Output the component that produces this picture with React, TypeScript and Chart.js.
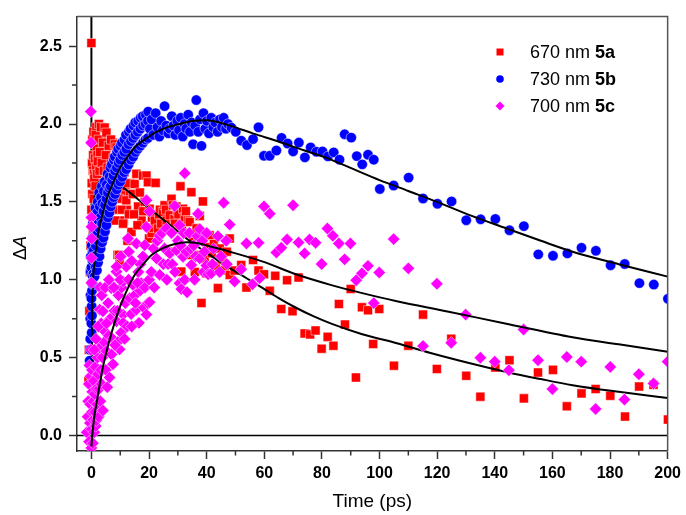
import React, { useEffect, useRef } from 'react';
import { Chart, registerables } from 'chart.js';

Chart.register(...registerables);

const xTickValues = [0, 20, 40, 60, 80, 100, 120, 140, 160, 180, 200];
const xMinorTicks = [10, 30, 50, 70, 90, 110, 130, 150, 170, 190];
const yTickValues = [0, 0.5, 1.0, 1.5, 2.0, 2.5];
const yMinorTicks = [0.25, 0.75, 1.25, 1.75, 2.25];

const legendLabels = ['670 nm ', '730 nm ', '700 nm '];
const legendIds = ['5a', '5b', '5c'];
const seriesColors = ['#FF0000', '#0000FF', '#FF00FF'];

// 670 nm 5a (red squares)
const series5a: number[][] = [
  [-1.0, 0.35], [-0.9, 0.55], [-0.7, 0.8], [-0.5, 1.05], [-0.3, 1.22], [0.0, 2.52], [0.1, 2.74],
  [0.0, 1.45], [0.1, 1.62], [0.2, 1.75], [0.3, 1.55], [0.4, 1.38], [0.5, 1.7], [0.6, 1.8], [0.8, 1.52],
  [0.2, 1.25], [0.5, 1.3], [0.9, 1.4], [1.3, 1.35], [0.3, 1.9], [0.7, 1.95], [0.9, 1.68], [1.3, 1.88],
  [1.7, 1.98], [2.4, 1.62], [2.6, 2.0], [3.1, 1.58], [3.5, 1.9], [3.9, 1.62], [4.4, 1.83], [4.9, 1.65],
  [5.4, 1.85], [5.9, 1.6], [6.5, 1.78], [7.0, 1.7], [7.4, 1.88], [7.9, 1.66], [8.4, 1.76], [9.0, 1.7],
  [9.4, 1.6], [10.2, 1.55], [10.6, 1.72], [11.8, 1.57], [12.3, 1.45], [13.4, 1.55], [13.5, 1.62],
  [1.0, 1.65], [1.2, 1.78], [1.4, 1.6], [1.5, 1.93], [1.6, 1.72], [1.8, 1.85], [2.0, 1.68], [2.1, 1.8],
  [2.2, 1.76], [2.5, 1.9], [2.8, 1.7], [3.0, 1.82], [3.3, 1.98], [3.6, 1.75], [4.0, 1.88], [4.3, 1.7],
  [4.6, 1.977], [5.0, 1.8], [5.2, 1.945], [5.6, 1.72], [6.0, 1.86], [6.3, 1.67], [6.8, 1.9], [7.2, 1.58],
  [7.6, 1.78], [8.1, 1.87], [8.5, 1.62], [8.7, 1.85], [9.2, 1.786], [9.6, 1.52], [10.0, 1.68], [10.4, 1.45],
  [10.8, 1.6], [11.2, 1.38], [11.5, 1.69], [12.1, 1.51], [12.6, 1.62], [13.0, 1.42], [13.9, 1.307],
  [14.4, 1.55], [15.0, 1.615], [15.6, 1.68], [16.2, 1.47], [16.8, 1.56], [17.4, 1.38], [17.9, 1.669],
  [18.5, 1.5], [19.1, 1.669], [19.6, 1.626],
  [7.5, 1.45], [8.3, 1.38], [9.1, 1.16], [9.8, 1.105], [9.6, 1.159], [11.0, 1.36], [12.5, 1.25],
  [14.8, 1.42], [16.0, 1.35], [18.0, 1.44],
  [20.2, 1.456], [20.0, 1.265], [20.9, 1.30], [21.0, 1.40], [21.6, 1.333], [22.0, 1.38], [22.3, 1.622],
  [23.1, 1.329], [23.5, 1.42], [23.8, 1.45], [24.2, 1.36], [24.8, 1.435], [25.4, 1.478], [25.9, 1.45],
  [26.1, 1.38], [26.6, 1.32], [27.2, 1.414], [27.2, 1.18], [27.8, 1.52], [28.3, 1.478], [28.8, 1.39],
  [29.0, 1.36], [29.5, 1.47], [29.8, 1.44], [30.2, 1.42], [30.6, 1.329], [30.9, 1.6], [31.2, 1.052],
  [31.4, 1.35], [31.8, 1.456], [32.4, 1.4], [32.8, 1.44], [33.1, 1.30], [33.6, 1.38], [34.1, 1.371],
  [34.1, 1.159], [34.7, 1.562], [35.3, 1.244], [35.9, 1.05], [36.5, 1.33], [37.0, 1.159], [37.6, 1.41],
  [38.2, 1.282], [38.2, 0.85], [38.7, 1.503], [39.3, 1.137], [39.9, 1.04], [40.5, 1.21], [41.0, 1.286],
  [41.8, 1.17], [42.5, 1.23], [43.2, 1.09], [43.9, 0.946], [44.6, 1.20], [45.4, 1.13], [46.2, 1.06],
  [47.0, 1.18], [48.0, 1.265], [48.0, 1.031],
  [49.7, 1.059], [52.0, 1.095], [53.8, 0.95], [56.1, 1.127], [58.0, 1.059], [59.9, 1.035], [61.9, 0.929],
  [63.8, 1.025], [65.9, 0.812], [67.9, 0.997], [69.8, 0.797], [71.9, 1.014], [74.0, 0.655], [75.9, 0.649],
  [77.8, 0.674], [79.9, 0.557], [82.0, 0.633], [84.0, 0.576], [85.9, 0.844], [88.0, 0.712], [90.0, 0.94],
  [91.8, 0.372], [93.9, 0.823], [96.0, 0.804], [97.8, 0.587], [99.9, 0.812], [105.0, 0.448], [110.0, 0.576],
  [115.1, 0.776], [119.9, 0.427], [124.9, 0.621], [130.1, 0.383], [135.0, 0.249], [140.2, 0.436],
  [145.1, 0.483], [150.1, 0.238], [155.0, 0.404], [160.2, 0.421], [165.0, 0.187], [170.1, 0.27],
  [175.0, 0.298], [180.1, 0.255], [185.2, 0.121], [190.1, 0.314], [195.1, 0.325], [200.1, 0.102],
];

// 730 nm 5b (blue circles)
const series5b: number[][] = [
  [-0.6, 0.48], [-0.5, 0.55], [-0.4, 0.62], [-0.4, 0.75], [-0.3, 0.9], [-0.3, 1.05], [-0.2, 1.15],
  [0.1, 0.66], [0.0, 0.72], [0.2, 0.77], [0.1, 0.83], [0.0, 0.88], [0.2, 0.93], [0.1, 0.98], [0.3, 1.03],
  [0.0, 1.08], [0.2, 1.13], [0.4, 1.18], [0.1, 1.22], [0.3, 1.27],
  [0.5, 0.97], [0.5, 1.12], [0.6, 1.26], [0.5, 1.36], [0.8, 1.04], [0.8, 1.19], [0.9, 1.32],
  [1.1, 1.02], [1.1, 1.15], [1.2, 1.28], [1.1, 1.41], [1.5, 1.08], [1.5, 1.22], [1.6, 1.36], [1.4, 1.46],
  [1.9, 1.06], [1.9, 1.3], [2.0, 1.43], [2.3, 1.11], [2.3, 1.25], [2.4, 1.38], [2.2, 1.5],
  [2.8, 1.15], [2.8, 1.33], [2.9, 1.47], [2.7, 1.56], [3.2, 1.2], [3.2, 1.4], [3.3, 1.53],
  [3.7, 1.24], [3.7, 1.36], [3.8, 1.49], [3.6, 1.6], [4.2, 1.27], [4.2, 1.44], [4.3, 1.57],
  [4.7, 1.31], [4.7, 1.48], [4.6, 1.63], [5.2, 1.35], [5.2, 1.52], [5.3, 1.61], [5.7, 1.4], [5.7, 1.56],
  [5.6, 1.68], [6.2, 1.43], [6.2, 1.59], [6.3, 1.66], [6.7, 1.47], [6.7, 1.6], [6.6, 1.72],
  [7.2, 1.5], [7.2, 1.64], [7.1, 1.74], [7.7, 1.53], [7.7, 1.67], [7.8, 1.77], [8.2, 1.55], [8.2, 1.7],
  [8.1, 1.79], [8.8, 1.58], [8.8, 1.72], [8.9, 1.82], [9.4, 1.61], [9.4, 1.75], [9.3, 1.84],
  [10.0, 1.63], [10.0, 1.77], [10.1, 1.86], [10.7, 1.66], [10.7, 1.8], [10.6, 1.88], [11.4, 1.69],
  [11.4, 1.82], [11.5, 1.9], [12.1, 1.71], [12.1, 1.84], [12.0, 1.93], [12.9, 1.74], [12.9, 1.87],
  [13.0, 1.95], [13.7, 1.77], [13.7, 1.89], [13.6, 1.97], [14.5, 1.79], [14.5, 1.91], [14.6, 1.99],
  [15.3, 1.82], [15.3, 1.93], [15.2, 2.01], [16.1, 1.84], [16.1, 1.95], [16.2, 2.02], [17.0, 1.86],
  [17.0, 1.97], [17.1, 2.04], [17.9, 1.88], [17.9, 1.99], [17.8, 2.05], [18.8, 1.9], [18.8, 2.0],
  [18.9, 2.06], [19.6, 1.91], [19.6, 2.02], [19.7, 2.08],
  [20.3, 1.97], [20.9, 2.03], [21.5, 1.93], [22.3, 2.07], [22.9, 1.98], [23.6, 1.92], [24.2, 2.02],
  [24.8, 1.96], [25.4, 2.115], [26.0, 1.99], [26.7, 1.94], [27.2, 1.97], [27.9, 2.05], [28.5, 1.99],
  [29.1, 1.93], [29.8, 2.02], [30.4, 1.96], [31.0, 2.04], [31.7, 1.92], [32.3, 2.0], [32.9, 1.97],
  [33.6, 2.06], [34.2, 1.95], [34.8, 2.01], [35.3, 1.87], [36.0, 1.99], [36.4, 2.154], [37.1, 1.95],
  [37.7, 2.03], [38.2, 1.86], [38.9, 2.07], [39.5, 1.97], [40.1, 2.02], [40.8, 1.94], [41.6, 2.04],
  [42.3, 1.98], [43.0, 2.01], [43.8, 1.95], [44.6, 2.03], [45.3, 1.98], [45.9, 2.04], [46.7, 1.97],
  [47.4, 2.0],
  [48.6, 1.977], [50.1, 1.95], [52.0, 1.893], [54.0, 1.865], [56.1, 1.903], [58.0, 1.979], [59.9, 1.796],
  [61.9, 1.796], [64.2, 1.83], [66.0, 1.911], [68.1, 1.875], [70.0, 1.824], [72.0, 1.881], [74.1, 1.786],
  [76.1, 1.85], [78.1, 1.822], [80.2, 1.824], [82.1, 1.792], [84.1, 1.818], [86.1, 1.771], [87.9, 1.934],
  [90.2, 1.913], [92.1, 1.794], [94.0, 1.741], [96.0, 1.803], [98.0, 1.771], [100.1, 1.583],
  [104.9, 1.605], [110.1, 1.656], [115.1, 1.522], [120.1, 1.488], [125.0, 1.503], [130.1, 1.382],
  [135.1, 1.388], [140.2, 1.39], [145.1, 1.318], [150.1, 1.344], [155.1, 1.163], [160.2, 1.154],
  [165.2, 1.169], [170.1, 1.205], [175.1, 1.186], [180.2, 1.093], [185.1, 1.101], [190.2, 0.978],
  [195.2, 0.969], [200.1, 0.878],
];

// 700 nm 5c (magenta diamonds)
const series5c: number[][] = [
  [-0.2, 2.08], [-0.1, 1.88], [0.0, 1.4], [0.05, 1.34], [0.1, 1.265], [0.0, 1.14], [0.0, 0.98],
  [-1.6, 0.02], [-1.3, 0.12], [-1.1, 0.22], [-0.9, 0.33], [-0.7, 0.45], [-0.8, -0.04], [-0.5, 0.08],
  [-0.4, 0.2], [-0.3, 0.38], [-0.2, 0.55], [0.0, -0.08], [0.1, 0.04], [0.2, 0.15], [0.3, 0.28],
  [0.2, 0.42], [0.5, -0.05], [0.6, 0.1], [0.7, 0.22], [0.8, 0.35], [1.0, 0.02], [1.1, 0.266],
  [1.2, 0.15], [1.4, 0.44], [1.5, 0.06], [1.7, 0.096], [1.8, 0.3], [2.0, 0.2], [2.1, 0.5], [2.3, 0.393],
  [2.5, 0.12], [2.7, 0.3], [2.9, 0.563], [3.1, 0.22], [3.3, 0.42], [3.5, 0.33], [3.8, 0.5], [4.0, 0.16],
  [4.0, 0.68], [2.9, 0.808], [4.0, 0.797], [3.4, 0.72], [4.5, 0.6], [5.0, 0.42], [5.2, 0.542],
  [5.5, 0.31], [5.8, 0.85], [6.3, 0.372], [6.0, 0.64], [6.9, 0.946], [6.5, 0.75], [7.0, 0.52],
  [7.5, 0.457], [7.4, 0.62], [8.0, 0.8], [8.7, 0.733], [8.7, 1.052], [9.2, 0.6], [9.8, 0.553],
  [9.4, 0.9], [10.3, 0.66], [10.5, 0.95], [11.0, 0.776], [11.0, 0.723], [11.0, 0.989], [11.8, 0.85],
  [12.1, 1.084], [12.4, 0.7], [13.3, 0.882], [13.8, 0.78], [14.4, 0.967], [15.0, 0.9], [15.6, 0.808],
  [16.5, 0.723], [16.9, 0.93], [17.3, 0.978], [18.2, 0.82], [19.1, 0.776], [19.6, 0.85], [20.2, 0.856],
  [1.0, 0.55], [1.6, 0.62], [2.4, 0.7], [3.0, 0.95], [3.6, 0.9], [4.8, 0.95], [5.3, 0.72], [6.1, 1.0],
  [7.8, 0.95], [8.2, 0.58], [9.0, 0.8], [10.0, 1.0], [11.5, 0.62], [12.9, 1.0], [14.0, 0.7], [15.3, 0.85],
  [16.0, 0.98], [17.0, 1.1], [18.6, 0.95], [20.0, 1.0],
  [8.7, 1.084], [10.2, 1.15], [12.7, 1.265], [13.0, 1.18], [14.0, 1.12], [15.6, 1.233], [16.3, 1.05],
  [17.9, 1.15], [18.5, 1.222], [19.1, 1.339], [19.1, 1.51], [20.2, 1.439],
  [20.8, 1.05], [21.5, 1.2], [21.8, 0.95], [22.6, 1.137], [22.9, 1.25], [23.7, 1.282], [23.7, 1.031],
  [24.5, 1.3], [25.0, 1.1], [25.4, 1.201], [26.0, 1.329], [26.2, 1.0], [26.6, 1.1], [27.2, 1.169],
  [27.8, 1.3], [28.1, 1.099], [28.9, 1.473], [29.0, 1.05], [29.5, 1.19], [30.0, 1.25], [30.6, 0.978],
  [30.6, 1.35], [31.0, 1.22], [31.2, 0.94], [31.8, 1.148], [32.0, 1.3], [32.4, 1.684], [32.4, 1.0],
  [33.0, 1.18], [33.2, 0.92], [34.0, 1.3], [34.5, 1.2], [34.7, 1.095], [35.5, 1.22], [35.8, 1.0],
  [36.2, 1.15], [36.8, 1.28], [37.0, 1.424], [37.6, 1.325], [37.6, 1.137], [38.5, 1.25], [38.9, 1.05],
  [39.2, 1.18], [39.9, 1.091], [40.0, 1.3], [40.5, 1.035], [41.6, 1.041], [42.0, 1.1], [42.4, 1.2],
  [43.9, 1.28], [44.5, 1.05], [45.0, 1.15], [45.9, 1.494], [46.8, 1.25], [47.0, 1.1], [48.0, 1.354],
  [49.7, 0.989], [52.0, 1.067], [53.8, 1.233], [55.9, 0.971], [58.0, 1.237], [58.4, 1.01], [59.9, 1.471],
  [61.9, 1.424], [64.2, 1.175], [65.9, 1.205], [67.9, 1.258], [70.0, 1.478], [71.9, 1.239], [74.0, 1.169],
  [75.7, 1.258], [77.8, 1.237], [79.9, 1.101], [81.9, 1.329], [83.8, 1.282], [85.9, 1.233], [87.9, 1.131],
  [89.9, 1.233], [91.9, 0.997], [93.9, 1.041], [96.0, 1.089], [98.0, 0.85], [99.9, 1.046], [104.9, 1.261],
  [110.0, 1.073], [115.1, 0.574], [119.9, 0.974], [124.9, 0.595], [129.9, 0.776], [135.0, 0.499],
  [140.0, 0.474], [144.9, 0.419], [150.0, 0.68], [155.0, 0.483], [160.0, 0.298], [165.0, 0.504],
  [170.0, 0.474], [175.0, 0.17], [180.1, 0.44], [185.0, 0.23], [190.0, 0.393], [195.1, 0.334],
  [200.0, 0.474],
];

// fitted curves
const fit5a: number[][] = [
  [0, 0.9], [0.2, 1.25], [0.5, 1.42], [1, 1.52], [2, 1.6], [3, 1.635], [4.5, 1.655], [6, 1.65], [8, 1.63],
  [10.4, 1.6], [15, 1.535], [20.2, 1.456], [26, 1.37], [33, 1.265], [41, 1.16], [48, 1.075], [54, 1.008],
  [59.5, 0.946], [65, 0.882], [71, 0.82], [77, 0.766], [83, 0.72], [94, 0.65], [106, 0.592], [117.4, 0.531],
  [130, 0.47], [144, 0.408], [156, 0.362], [167, 0.323], [183, 0.28], [200, 0.24],
];
const fit5b: number[][] = [
  [0, 0.0], [0.1, 0.45], [0.25, 0.8], [0.5, 0.98], [1, 1.1], [1.6, 1.2], [2.5, 1.31], [4, 1.43], [5.7, 1.54],
  [7.5, 1.62], [10, 1.72], [12.5, 1.79], [15.6, 1.86], [18.4, 1.9], [22.6, 1.95], [26.5, 1.98], [30.6, 2.0],
  [35, 2.02], [40, 2.025], [48, 1.99], [56, 1.94], [65.3, 1.885], [74, 1.83], [82.7, 1.775], [91, 1.71],
  [100, 1.64], [110, 1.57], [120, 1.5], [132, 1.41], [144, 1.33], [156, 1.25], [167, 1.18], [183, 1.1],
  [200, 1.02],
];
const fit5c: number[][] = [
  [0, -0.07], [0.3, 0.0], [1, 0.12], [2, 0.23], [4, 0.44], [7, 0.66], [10, 0.83], [12.5, 0.94], [15, 1.03],
  [18, 1.1], [21, 1.16], [25, 1.205], [29, 1.23], [33, 1.24], [37, 1.235], [41, 1.215], [48, 1.18],
  [59.5, 1.116], [71, 1.035], [83, 0.967], [94, 0.914], [106, 0.862], [124, 0.795], [144, 0.717],
  [167, 0.63], [183, 0.585], [200, 0.538],
];

const toXY = (arr: number[][]) => arr.map(([x, y]) => ({ x, y }));

const FONT = '"Liberation Sans", Arial, Helvetica, sans-serif';

const decorPlugin = {
  id: 'decor',
  beforeDatasetsDraw(chart: any) {
    const { ctx, chartArea, scales } = chart;
    const x0 = scales.x.getPixelForValue(0);
    const y0 = scales.y.getPixelForValue(0);
    ctx.save();
    ctx.strokeStyle = '#000';
    ctx.lineWidth = 1.5;
    ctx.beginPath();
    ctx.moveTo(chartArea.left, y0);
    ctx.lineTo(chartArea.right, y0);
    ctx.stroke();
    ctx.lineWidth = 2;
    ctx.beginPath();
    ctx.moveTo(x0, chartArea.top);
    ctx.lineTo(x0, chartArea.bottom);
    ctx.stroke();
    ctx.restore();
  },
  afterDraw(chart: any) {
    const { ctx, chartArea, scales } = chart;
    ctx.save();
    ctx.strokeStyle = '#555';
    ctx.lineWidth = 1.5;
    ctx.beginPath();
    ctx.moveTo(chartArea.left, chartArea.top);
    ctx.lineTo(chartArea.right, chartArea.top);
    ctx.lineTo(chartArea.right, chartArea.bottom);
    ctx.stroke();
    ctx.strokeStyle = '#333';
    ctx.lineWidth = 1.5;
    ctx.beginPath();
    xMinorTicks.forEach((v) => {
      const px = scales.x.getPixelForValue(v);
      ctx.moveTo(px, chartArea.bottom);
      ctx.lineTo(px, chartArea.bottom + 4.5);
    });
    yMinorTicks.forEach((v) => {
      const py = scales.y.getPixelForValue(v);
      ctx.moveTo(chartArea.left, py);
      ctx.lineTo(chartArea.left - 5, py);
    });
    ctx.stroke();
    ctx.fillStyle = '#000';
    ctx.font = `19px ${FONT}`;
    ctx.textAlign = 'center';
    ctx.textBaseline = 'middle';
    ctx.fillText('Time (ps)', (chartArea.left + chartArea.right) / 2, 502);
    ctx.save();
    ctx.translate(21, 248);
    ctx.rotate(-Math.PI / 2);
    ctx.font = `18px ${FONT}`;
    const wD = ctx.measureText('\u0394').width;
    ctx.font = `italic 18px ${FONT}`;
    const wA = ctx.measureText('A').width;
    const start = -(wD + wA) / 2;
    ctx.textAlign = 'left';
    ctx.font = `18px ${FONT}`;
    ctx.fillText('\u0394', start, 0);
    ctx.font = `italic 18px ${FONT}`;
    ctx.fillText('A', start + wD, 0);
    ctx.restore();
    const lx = 500;
    const ly0 = 52;
    const step = 27;
    for (let i = 0; i < 3; i++) {
      const y = ly0 + i * step;
      ctx.fillStyle = seriesColors[i];
      ctx.beginPath();
      if (i === 0) {
        ctx.rect(lx - 3.5, y - 3.5, 7, 7);
      } else if (i === 1) {
        ctx.arc(lx, y, 3.8, 0, Math.PI * 2);
      } else {
        ctx.moveTo(lx, y - 4.5);
        ctx.lineTo(lx + 4.5, y);
        ctx.lineTo(lx, y + 4.5);
        ctx.lineTo(lx - 4.5, y);
        ctx.closePath();
      }
      ctx.fill();
      ctx.fillStyle = '#000';
      ctx.textAlign = 'left';
      ctx.textBaseline = 'middle';
      ctx.font = `18px ${FONT}`;
      ctx.fillText(legendLabels[i], 530, y + 1);
      const w = ctx.measureText(legendLabels[i]).width;
      ctx.font = `bold 18px ${FONT}`;
      ctx.fillText(legendIds[i], 530 + w, y + 1);
    }
    ctx.restore();
  },
};

export default function App() {
  const canvasRef = useRef<HTMLCanvasElement | null>(null);

  useEffect(() => {
    if (!canvasRef.current) return;
    Chart.defaults.font.family = FONT;
    const pointBase = {
      showLine: false,
      pointBorderColor: 'rgba(255,255,255,0.8)',
      pointBorderWidth: 0.6,
      clip: 0,
    };
    const fitBase = {
      showLine: true,
      pointRadius: 0,
      borderColor: '#000',
      backgroundColor: '#000',
      borderWidth: 2,
      cubicInterpolationMode: 'monotone',
      fill: false,
      clip: 0,
    };
    const chart = new Chart(canvasRef.current, {
      type: 'scatter',
      data: {
        datasets: [
          { ...fitBase, label: 'fit 5c', data: toXY(fit5c), order: 0 },
          { ...pointBase, label: '700 nm 5c', data: toXY(series5c), pointStyle: 'rectRot', pointRadius: 6.2, backgroundColor: '#FF00FF', order: 1 },
          { ...fitBase, label: 'fit 5b', data: toXY(fit5b), order: 2 },
          { ...pointBase, label: '730 nm 5b', data: toXY(series5b), pointStyle: 'circle', pointRadius: 5.2, backgroundColor: '#0000FF', order: 3 },
          { ...fitBase, label: 'fit 5a', data: toXY(fit5a), order: 4 },
          { ...pointBase, label: '670 nm 5a', data: toXY(series5a), pointStyle: 'rect', pointRadius: 6.4, backgroundColor: '#FF0000', order: 5 },
        ] as any,
      },
      options: {
        responsive: false,
        animation: false,
        devicePixelRatio: 1,
        layout: { padding: { top: 14, right: 18, left: 0, bottom: 0 } },
        plugins: { legend: { display: false }, tooltip: { enabled: false } },
        scales: {
          x: {
            type: 'linear',
            min: -5,
            max: 200,
            afterBuildTicks: (s: any) => { s.ticks = xTickValues.map((v) => ({ value: v })); },
            afterFit: (s: any) => { s.height = 64; },
            ticks: {
              callback: (v: any) => String(v),
              font: { size: 16, weight: 'bold', family: FONT },
              color: '#000',
              padding: 5,
              maxRotation: 0,
              autoSkip: false,
            },
            grid: { drawOnChartArea: false, drawTicks: true, tickLength: 8, tickColor: '#333', tickWidth: 1.5 },
            border: { display: true, color: '#333', width: 1.5 },
          },
          y: {
            type: 'linear',
            min: -0.1,
            max: 2.69,
            afterBuildTicks: (s: any) => { s.ticks = yTickValues.map((v) => ({ value: v })); },
            afterFit: (s: any) => { s.width = 77; },
            ticks: {
              callback: (v: any) => Number(v).toFixed(1),
              font: { size: 16, weight: 'bold', family: FONT },
              color: '#000',
              padding: 7,
              autoSkip: false,
            },
            grid: { drawOnChartArea: false, drawTicks: true, tickLength: 8, tickColor: '#333', tickWidth: 1.5 },
            border: { display: true, color: '#333', width: 1.5 },
          },
        },
      } as any,
      plugins: [decorPlugin],
    });
    return () => chart.destroy();
  }, []);

  return (
    <div style={{ position: 'absolute', left: 0, top: 0, width: 686, height: 515, background: '#fff' }}>
      <canvas ref={canvasRef} width={686} height={515} style={{ display: 'block', width: 686, height: 515 }} />
    </div>
  );
}
